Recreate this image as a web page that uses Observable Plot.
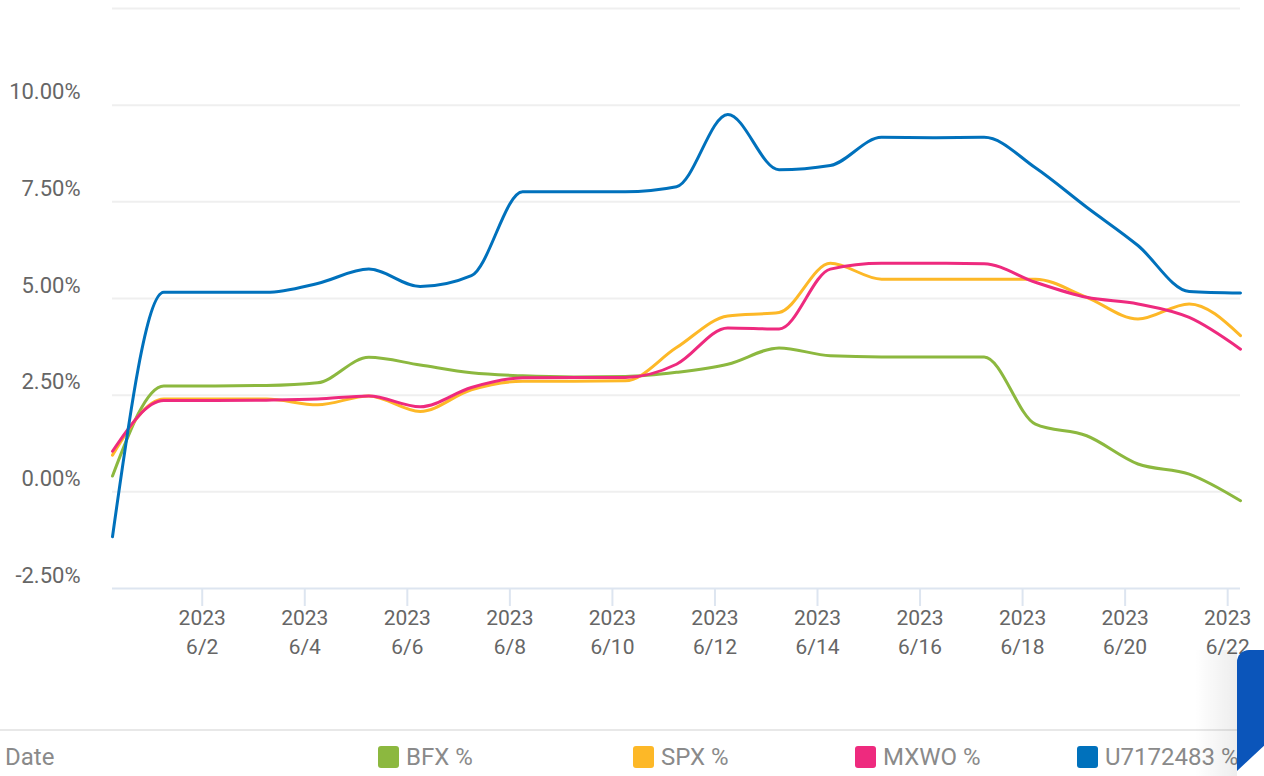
<!DOCTYPE html>
<html>
<head>
<meta charset="utf-8">
<script src="https://cdn.jsdelivr.net/npm/d3@7"></script>
<script src="https://cdn.jsdelivr.net/npm/@observablehq/plot@0.6"></script>
<style>
  html, body { margin: 0; padding: 0; background: #fff; width: 1264px; height: 776px; overflow: hidden; }
  body { position: relative; font-family: Roboto, "Liberation Sans", Arial, sans-serif; }
  #chart { position: absolute; left: 0; top: 0; }
  #legend { position: absolute; left: 0; top: 729px; width: 1264px; height: 47px; border-top: 2px solid #e8e8e8; }
  .lg { position: absolute; top: 13px; font-size: 24px; color: #8a8a8a; display: flex; align-items: center; white-space: nowrap; line-height: 26px; }
  .sw { width: 21px; height: 22px; border-radius: 3px; margin-right: 7px; display: inline-block; }
  #widget { position: absolute; left: 1237px; top: 650px; width: 27px; height: 126px; background: #0b55ba;
            border-top-left-radius: 12px; clip-path: polygon(0 0, 100% 0, 100% 76%, 0 96%); z-index: 5; }
  #shadow { position: absolute; left: 1195px; top: 650px; width: 42px; height: 126px;
            background: linear-gradient(to right, rgba(0,0,0,0), rgba(0,0,0,0.07)); z-index: 4; }
</style>
</head>
<body>
<div id="chart"></div>
<div id="legend"></div>
<div id="shadow"></div>
<div id="widget"></div>
<script>
// ---- data ----
const dates = [
  "2023-05-31T06:00Z","2023-06-01T06:00Z","2023-06-02T06:00Z","2023-06-03T06:00Z",
  "2023-06-04T06:00Z","2023-06-05T06:00Z","2023-06-06T06:00Z","2023-06-07T06:00Z",
  "2023-06-08T06:00Z","2023-06-09T06:00Z","2023-06-10T06:00Z","2023-06-11T06:00Z",
  "2023-06-12T06:00Z","2023-06-13T06:00Z","2023-06-14T06:00Z","2023-06-15T06:00Z",
  "2023-06-16T06:00Z","2023-06-17T06:00Z","2023-06-18T06:00Z","2023-06-19T06:00Z",
  "2023-06-20T06:00Z","2023-06-21T06:00Z","2023-06-22T06:00Z"
];
const seriesNames = ["BFX %", "SPX %", "MXWO %", "U7172483 %"];
const seriesColors = ["#8cb83f", "#fdb827", "#ee2a7e", "#0071bc"];
const bfx  = [0.41, 2.74, 2.74, 2.75, 2.82, 3.48, 3.28, 3.08, 3.00, 2.97, 2.98, 3.09, 3.30, 3.72, 3.52, 3.49, 3.49, 3.49, 1.75, 1.45, 0.72, 0.46, -0.23];
const spx  = [0.95, 2.40, 2.40, 2.40, 2.25, 2.48, 2.08, 2.64, 2.86, 2.86, 2.87, 3.73, 4.55, 4.64, 5.91, 5.50, 5.50, 5.50, 5.50, 5.03, 4.47, 4.86, 4.04];
const mxwo = [1.05, 2.36, 2.36, 2.37, 2.40, 2.48, 2.20, 2.70, 2.95, 2.96, 2.96, 3.30, 4.24, 4.21, 5.76, 5.91, 5.91, 5.90, 5.42, 5.03, 4.86, 4.51, 3.69];
const u71  = [-1.16, 5.16, 5.16, 5.16, 5.39, 5.76, 5.31, 5.59, 7.76, 7.76, 7.76, 7.89, 9.76, 8.33, 8.44, 9.17, 9.16, 9.17, 8.38, 7.36, 6.37, 5.18, 5.14];
const yTicks = [-2.5, 0, 2.5, 5, 7.5, 10];
const gridTicks = [0, 2.5, 5, 7.5, 10, 12.5];
const xTickDates = ["2023-06-02","2023-06-04","2023-06-06","2023-06-08","2023-06-10","2023-06-12",
                    "2023-06-14","2023-06-16","2023-06-18","2023-06-20","2023-06-22"];

// ---- build table ----
const allSeries = [bfx, spx, mxwo, u71];
const rows = [];
allSeries.forEach((vals, si) => {
  vals.forEach((v, i) => rows.push({date: new Date(dates[i]), value: v, series: seriesNames[si]}));
});

const chart = Plot.plot({
  width: 1264,
  height: 700,
  marginTop: 8,
  marginRight: 24,
  marginBottom: 112,
  marginLeft: 112,
  style: {fontFamily: "Roboto, 'Liberation Sans', Arial, sans-serif", fontSize: "21px", color: "#666", background: "#fff"},
  x: {type: "utc", domain: [new Date(dates[0]), new Date(dates[dates.length - 1])]},
  y: {domain: [-2.5, 12.5]},
  color: {domain: seriesNames, range: seriesColors},
  marks: [
    Plot.ruleY(gridTicks, {stroke: "#efefef", strokeWidth: 2}),
    Plot.ruleY([-2.5], {stroke: "#dde5f0", strokeWidth: 2}),
    Plot.axisX({
      ticks: xTickDates.map(d => new Date(d)),
      tickSize: 18,
      tickPadding: -2,
      stroke: "#dde5f0",
      strokeWidth: 2,
      strokeOpacity: 1,
      lineHeight: 1.38,
      fill: "#666",
      tickFormat: d => `${d.getUTCFullYear()}\n${d.getUTCMonth() + 1}/${d.getUTCDate()}`,
      label: null
    }),
    Plot.axisY({
      ticks: yTicks,
      tickSize: 0,
      tickPadding: 32,
      dy: -13,
      fontSize: 22,
      fill: "#666",
      tickFormat: v => v.toFixed(2) + "%",
      label: null
    }),
    Plot.lineY(rows, {x: "date", y: "value", z: "series", stroke: "series", strokeWidth: 3, curve: "monotone-x"})
  ]
});
document.getElementById("chart").appendChild(chart);

// ---- legend ----
const legend = document.getElementById("legend");
const dateLbl = document.createElement("div");
dateLbl.className = "lg";
dateLbl.style.left = "5px";
dateLbl.textContent = "Date";
legend.appendChild(dateLbl);
const legendLefts = [378, 633, 855, 1077];
seriesNames.forEach((name, i) => {
  const item = document.createElement("div");
  item.className = "lg";
  item.style.left = legendLefts[i] + "px";
  const sw = document.createElement("span");
  sw.className = "sw";
  sw.style.background = seriesColors[i];
  item.appendChild(sw);
  item.appendChild(document.createTextNode(name));
  legend.appendChild(item);
});
</script>
</body>
</html>
